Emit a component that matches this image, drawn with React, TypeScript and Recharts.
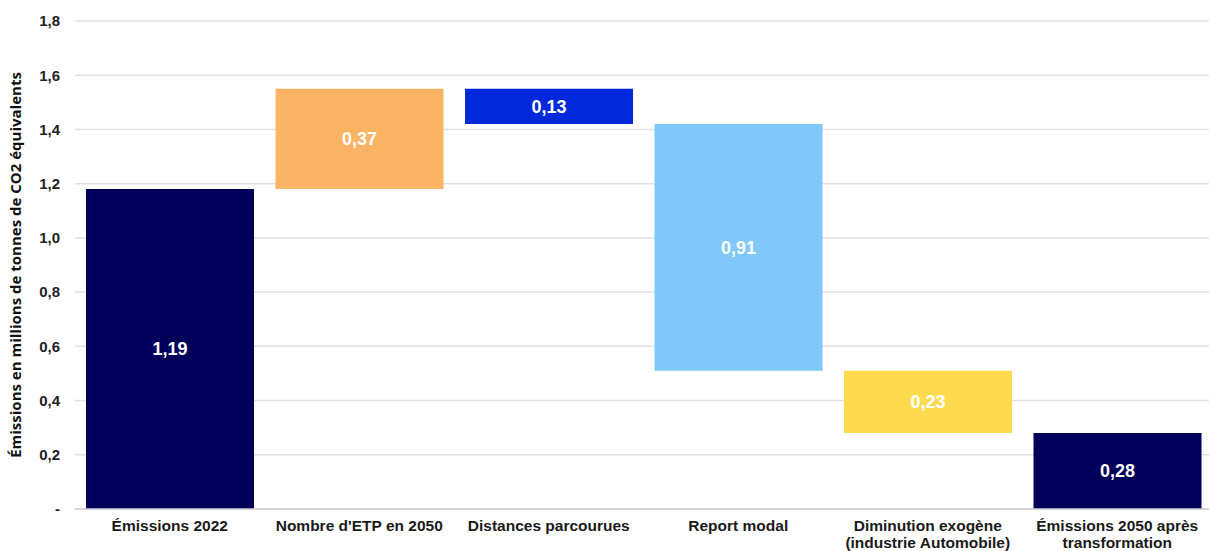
import React from 'react';
import {
  BarChart,
  Bar,
  XAxis,
  YAxis,
  CartesianGrid,
  Cell,
  LabelList,
  Label,
} from 'recharts';

const categories = [
  'Émissions 2022',
  "Nombre d'ETP en 2050",
  'Distances parcourues',
  'Report modal',
  'Diminution exogène\n(industrie Automobile)',
  'Émissions 2050 après\ntransformation',
];
const lows = [0, 1.18, 1.42, 0.51, 0.28, 0];
const highs = [1.18, 1.55, 1.55, 1.42, 0.51, 0.28];
const values = [1.19, 0.37, 0.13, 0.91, 0.23, 0.28];
const colors = ['#00005a', '#fbb464', '#0029dc', '#80c8f9', '#ffda4f', '#00005a'];
const yTicks = [0, 0.2, 0.4, 0.6, 0.8, 1.0, 1.2, 1.4, 1.6, 1.8];

const data = categories.map((name, i) => ({
  name,
  range: [lows[i], highs[i]],
  value: values[i],
}));

const font = '"Liberation Sans", Arial, sans-serif';

const fmt = (v: number) => v.toFixed(2).replace('.', ',');
const fmtTick = (v: number) => (v === 0 ? '-' : v.toFixed(1).replace('.', ','));

const CategoryTick = (props: any) => {
  const { x, y, payload } = props;
  const lines = String(payload.value).split('\n');
  return (
    <text
      x={x}
      y={y}
      textAnchor="middle"
      fill="#1a1a1a"
      fontFamily={font}
      fontWeight="bold"
      fontSize={15.5}
    >
      {lines.map((line, i) => (
        <tspan key={i} x={x} dy={i === 0 ? 14 : 17}>
          {line}
        </tspan>
      ))}
    </text>
  );
};

export default function App() {
  return (
    <div style={{ position: 'absolute', left: 0, top: 0 }}>
      <BarChart
        width={1214}
        height={551}
        data={data}
        margin={{ top: 21, right: 2, bottom: 0, left: 0 }}
        barSize={168}
      >
        <CartesianGrid vertical={false} stroke="#e2e2e2" strokeWidth={1.5} />
        <XAxis
          dataKey="name"
          interval={0}
          tickLine={false}
          axisLine={{ stroke: '#d0d0d0', strokeWidth: 1.5 }}
          tick={<CategoryTick />}
          height={42}
        />
        <YAxis
          domain={[0, 1.8]}
          ticks={yTicks}
          tickFormatter={fmtTick}
          axisLine={false}
          tickLine={false}
          tickSize={6}
          tickMargin={9}
          width={75}
          tick={{ fill: '#222', fontSize: 15, fontWeight: 'bold', fontFamily: font }}
        >
          <Label
            value="Émissions en millions de tonnes de CO2 équivalents"
            angle={-90}
            position="insideLeft"
            offset={0}
            dx={16}
            style={{
              textAnchor: 'middle',
              fill: '#111',
              fontSize: 15,
              fontWeight: 'bold',
              fontFamily: '"Open Sans", sans-serif',
            }}
          />
        </YAxis>
        <Bar dataKey="range" isAnimationActive={false}>
          {data.map((d, i) => (
            <Cell key={d.name} fill={colors[i]} />
          ))}
          <LabelList
            dataKey="value"
            position="center"
            formatter={(v: any) => fmt(Number(v))}
            fill="#ffffff"
            style={{ fontSize: 18, fontWeight: 'bold', fontFamily: font }}
          />
        </Bar>
      </BarChart>
    </div>
  );
}
